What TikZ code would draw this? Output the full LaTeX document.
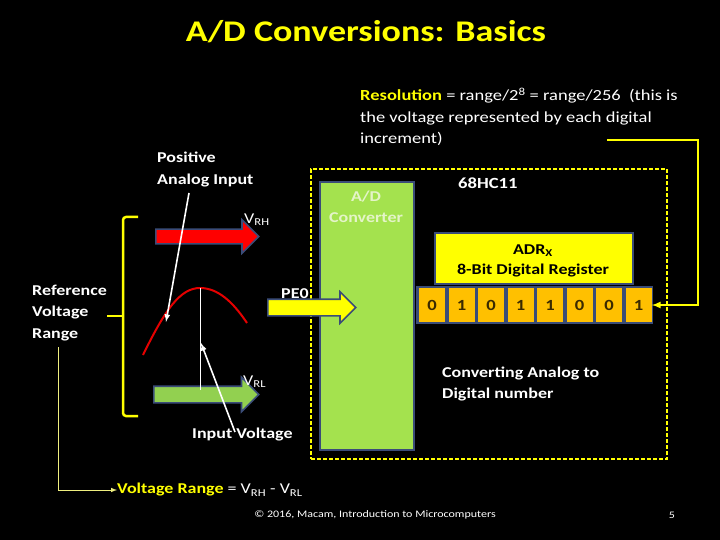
\documentclass[tikz,border=0pt]{standalone}
\usepackage{fontspec}
\setmainfont{Carlito}[FakeStretch=1.2]
\usetikzlibrary{shapes}
\usetikzlibrary{arrows}
\definecolor{ttlyellow}{HTML}{FFFF00}
\definecolor{adgreen}{HTML}{A4E24E}
\definecolor{vrlgreen}{HTML}{92D050}
\definecolor{edgeblue}{HTML}{3A4C78}
\definecolor{bitorange}{HTML}{FFC000}
\definecolor{bitbrown}{HTML}{3A2A00}
\definecolor{lightgreen}{HTML}{E4F4C8}
\definecolor{paleyellow}{HTML}{F0F080}

\begin{document}
\begin{tikzpicture}[x=1pt,y=-1pt]
	\tikzstyle{every node}=[font=\fontsize{15}{21.5}\selectfont, text=white]
	\tikzstyle{lbl}=[font=\fontsize{15}{21.5}\selectfont\bfseries, align=left, inner sep=0pt]
	\tikzstyle{blk}=[single arrow, draw=edgeblue, line width=1.6pt, inner xsep=0pt, single arrow head indent=0pt, anchor=tail]
	\tikzstyle{bit}=[rectangle, fill=bitorange, minimum width=26, minimum height=34, inner sep=0pt, text=bitbrown, font=\fontsize{15.5}{18}\selectfont\bfseries]
	\tikzstyle{wire}=[white, line width=1.6pt, -latex]
	
	\fill[black] (0,0) rectangle (720,540);
	\useasboundingbox (0,0) rectangle (720,540);
	
	\node[anchor=base, text=ttlyellow, font=\fontsize{30}{36}\selectfont\bfseries] (title) at (366,42) {A/D Conversions: Basics};
	
	\node[anchor=north west, inner sep=0pt, align=left, font=\fontsize{15.4}{21.5}\selectfont] (res) at (360,88)
	{\textcolor{ttlyellow}{\bfseries Resolution} = range/2\textsuperscript{8} = range/256~ (this is\\the voltage represented by each digital\\increment)};
	
	% microcontroller and its parts
	\node[draw=ttlyellow, dashed, dash pattern=on 4pt off 2pt, line width=2pt, minimum width=356, minimum height=290, anchor=north west] (mcu) at (310,168) {};
	\node[lbl, anchor=base west, font=\fontsize{15.5}{21.5}\selectfont\bfseries] (mcuname) at (458,189) {68HC11};
	\node[draw=edgeblue, fill=adgreen, line width=1.6pt, minimum width=94, minimum height=268, anchor=north west] (adc) at (319,181) {};
	\node[lbl, align=center, anchor=north, text=lightgreen] (adcname) at (366,190.5) {A/D\\Converter};
	\node[draw=edgeblue, fill=ttlyellow, line width=1.6pt, minimum width=198, minimum height=51, anchor=north west] (reg) at (434,232) {};
	\node[lbl, align=center, anchor=north, text=black, font=\fontsize{15}{20}\selectfont\bfseries] (regname) at (533,244.5) {ADR\textsubscript{X}\\8-Bit Digital Register};
	\fill[edgeblue] (416,286) rectangle (653,324);
	\foreach \b [count=\i from 0] in {0,1,0,1,1,0,0,1}
		\node[bit] (b\i) at (432+\i*29.5,305) {\b};
	\node[lbl, anchor=north west] (conv) at (442,366.5) {Converting Analog to\\Digital number};
	
	\coordinate (resend) at (607,140);
	\coordinate (rescorner) at (698,140);
	\draw[ttlyellow, line width=2pt, -latex] (resend) -- (rescorner) |- (b7.east);
	
	% block arrows
	\node[blk, fill=red, minimum height=103, inner ysep=6.5, single arrow head extend=9.5] (vrh) at (155,236.5) {};
	\node[blk, fill=vrlgreen, minimum height=105, inner ysep=7.5, single arrow head extend=9] (vrl) at (153,394.5) {};
	\node[blk, fill=ttlyellow, minimum height=88, inner ysep=7.5, single arrow head extend=7.5] (pe) at (267,307.5) {};
	\node[anchor=base west, inner sep=0pt] (vrhname) at (244,223) {V\textsubscript{RH}};
	\node[anchor=base west, inner sep=0pt] (vrlname) at (243,385) {V\textsubscript{RL}};
	\node[lbl, anchor=base west] (pename) at (281,298) {PE0};
	
	% analog signal
	\coordinate (sigstart) at (143,355);
	\coordinate (peak) at (200,288);
	\coordinate (sigend) at (247,323);
	\coordinate (foot) at (200,390);
	\draw[red!90!black, line width=2pt] (sigstart) .. controls (165,310) and (180,288) .. (peak) .. controls (218,288) and (233,302) .. (sigend);
	\draw[white, line width=0.8pt] (peak) -- (foot);
	
	\node[lbl, anchor=north west, font=\fontsize{15}{22}\selectfont\bfseries] (pai) at (157,151.5) {Positive\\Analog Input};
	\node[lbl, anchor=base west] (iv) at (192,438) {Input Voltage};
	\coordinate (paitail) at (189,193);
	\coordinate (hit) at (166,322);
	\coordinate (ivtail) at (235,432);
	\coordinate (ivhit) at (201,343);
	\draw[wire] (paitail) -- (hit);
	\draw[wire] (ivtail) -- (ivhit);
	
	% reference range
	\draw[ttlyellow, line width=2.5pt, rounded corners=3pt] (138,217) -- (123,217) -- (123,416) -- (138,416);
	\draw[ttlyellow, line width=2.5pt] (123,316) -- (107,316);
	\node[lbl, anchor=north west] (refrange) at (32,284.5) {Reference\\Voltage\\Range};
	\node[anchor=west, inner sep=0pt] (vrange) at (117,490)
	{\textcolor{ttlyellow}{\bfseries Voltage Range} = V\textsubscript{RH} - V\textsubscript{RL}};
	\coordinate (rangetail) at (58,347);
	\draw[paleyellow, line width=1pt, -latex] (rangetail) |- (vrange.west);
	
	\node[font=\fontsize{10}{12}\selectfont] (foot) at (375,515) {\textcopyright{} 2016, Macam, Introduction to Microcomputers};
	\node[font=\fontsize{10}{12}\selectfont] (page) at (672,515) {5};
\end{tikzpicture}
\end{document}
